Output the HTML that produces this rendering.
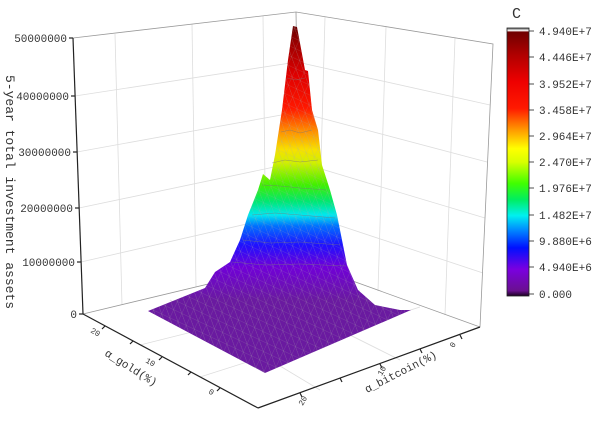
<!DOCTYPE html>
<html><head><meta charset="utf-8"><style>
html,body{margin:0;padding:0;background:#fff;}
svg{display:block;}
text{font-family:"Liberation Mono",monospace;fill:#333;}
</style></head><body>
<svg width="606" height="426" viewBox="0 0 606 426" xmlns="http://www.w3.org/2000/svg">
<defs>
<linearGradient id="cb" x1="0" y1="1" x2="0" y2="0">
<stop offset="0" stop-color="#1a0020"/>
<stop offset="0.02" stop-color="#6a1090"/>
<stop offset="0.1" stop-color="#7a00e0"/>
<stop offset="0.18" stop-color="#0010ff"/>
<stop offset="0.25" stop-color="#0090ff"/>
<stop offset="0.3" stop-color="#00f0f0"/>
<stop offset="0.36" stop-color="#00ee60"/>
<stop offset="0.42" stop-color="#40ff00"/>
<stop offset="0.5" stop-color="#d8ff00"/>
<stop offset="0.55" stop-color="#ffff00"/>
<stop offset="0.62" stop-color="#ff9900"/>
<stop offset="0.7" stop-color="#ff1a00"/>
<stop offset="0.8" stop-color="#ee0000"/>
<stop offset="0.9" stop-color="#b00000"/>
<stop offset="0.985" stop-color="#700000"/>
<stop offset="0.99" stop-color="#ffffff"/>
<stop offset="1" stop-color="#555"/>
</linearGradient>
<linearGradient id="sf" gradientUnits="userSpaceOnUse" x1="0" y1="300" x2="0" y2="26">
<stop offset="0" stop-color="#6a1aa0"/>
<stop offset="0.12" stop-color="#7000d8"/>
<stop offset="0.2" stop-color="#2010ff"/>
<stop offset="0.27" stop-color="#0070ff"/>
<stop offset="0.31" stop-color="#00e8f0"/>
<stop offset="0.36" stop-color="#00e870"/>
<stop offset="0.42" stop-color="#40f000"/>
<stop offset="0.5" stop-color="#d0f000"/>
<stop offset="0.55" stop-color="#f8e000"/>
<stop offset="0.62" stop-color="#ff8a00"/>
<stop offset="0.7" stop-color="#ff1800"/>
<stop offset="0.82" stop-color="#e00000"/>
<stop offset="0.93" stop-color="#a00000"/>
<stop offset="1" stop-color="#6a0000"/>
</linearGradient>
<pattern id="mesh" width="9" height="9" patternUnits="userSpaceOnUse" patternTransform="rotate(25)">
<path d="M0 0H9M0 0V9M0 0L9 9" stroke="#aaa" stroke-width="0.4" fill="none" opacity="0.6"/>
</pattern>
</defs>

<!-- walls -->
<g stroke="#ddd" stroke-width="0.8" fill="none">
<line x1="115" y1="34" x2="122" y2="305"/>
<line x1="192" y1="24" x2="196" y2="287"/>
<line x1="263" y1="16" x2="266" y2="270"/>
<line x1="325" y1="17" x2="318" y2="270"/>
<line x1="386" y1="27" x2="378" y2="291"/>
<line x1="455" y1="38" x2="445" y2="315"/>
<line x1="75" y1="96" x2="297" y2="62"/>
<line x1="77" y1="152" x2="298" y2="112"/>
<line x1="79" y1="208" x2="298" y2="162"/>
<line x1="81" y1="262" x2="299" y2="212"/>
<line x1="297" y1="62" x2="490" y2="105"/>
<line x1="298" y1="112" x2="487" y2="162"/>
<line x1="298" y1="162" x2="485" y2="218"/>
<line x1="299" y1="212" x2="483" y2="273"/>
<line x1="140" y1="345" x2="360" y2="290"/>
<line x1="200" y1="377" x2="420" y2="307"/>
<line x1="170" y1="300" x2="320" y2="390"/>
<line x1="240" y1="280" x2="400" y2="360"/>
</g>
<g stroke="#999" stroke-width="0.8" fill="none">
<polyline points="73,38 296,12 493,44 480,327"/>
<line x1="296" y1="12" x2="300" y2="262"/>
<polyline points="83,314 300,262 480,327"/>
</g>

<!-- surface -->
<polygon fill="url(#sf)" points="148,311 205,288 215,272 230,262 240,240 248,215 258,190 263,174 270,180 275,155 282,110 288,60 293,26 297,27 305,70 308,71 312,110 318,130 322,165 330,190 337,215 342,240 347,265 358,290 375,305 400,310 411,310 265,373"/>
<polygon fill="url(#mesh)" points="148,311 205,288 215,272 230,262 240,240 248,215 258,190 263,174 270,180 275,155 282,110 288,60 293,26 297,27 305,70 308,71 312,110 318,130 322,165 330,190 337,215 342,240 347,265 358,290 375,305 400,310 411,310 265,373"/>
<g stroke="#777" stroke-width="0.5" fill="none" opacity="0.7">
<polyline points="287,78 296,80 305,78"/>
<polyline points="281,132 290,130 300,133 312,130"/>
<polyline points="272,163 285,160 300,162 318,160"/>
<polyline points="262,185 280,186 300,188 326,190"/>
<polyline points="252,215 275,213 300,215 335,218"/>
<polyline points="243,240 270,243 300,242 340,245"/>
<polyline points="232,262 265,265 300,264 346,266"/>
</g>

<!-- axes -->
<g stroke="#222" stroke-width="1.2" fill="none">
<line x1="73" y1="38" x2="83" y2="314"/>
<line x1="83" y1="314" x2="258" y2="408"/>
<line x1="258" y1="408" x2="480" y2="327"/>
<line x1="69" y1="38" x2="73" y2="38"/>
<line x1="71" y1="96" x2="75" y2="96"/>
<line x1="73" y1="152" x2="77" y2="152"/>
<line x1="75" y1="208" x2="79" y2="208"/>
<line x1="77" y1="262" x2="81" y2="262"/>
<line x1="79" y1="314" x2="83" y2="314"/>
<line x1="105" y1="326" x2="102" y2="329"/>
<line x1="133" y1="341" x2="130" y2="344"/>
<line x1="162" y1="357" x2="159" y2="360"/>
<line x1="191" y1="372" x2="188" y2="375"/>
<line x1="220" y1="388" x2="217" y2="391"/>
<line x1="300" y1="393" x2="302" y2="397"/>
<line x1="340" y1="378" x2="342" y2="382"/>
<line x1="380" y1="364" x2="382" y2="368"/>
<line x1="420" y1="349" x2="422" y2="353"/>
<line x1="460" y1="335" x2="462" y2="339"/>
</g>
<g font-size="11" text-anchor="end">
<text x="67" y="42">50000000</text>
<text x="69" y="100">40000000</text>
<text x="71" y="156">30000000</text>
<text x="73" y="212">20000000</text>
<text x="75" y="266">10000000</text>
<text x="77" y="318">0</text>
</g>
<g font-size="8" fill="#555">
<text transform="translate(90,332) rotate(30)">20</text>
<text transform="translate(145,362) rotate(30)">10</text>
<text transform="translate(208,393) rotate(30)">0</text>
<text transform="translate(305,402) rotate(-60)" text-anchor="middle">20</text>
<text transform="translate(384,372) rotate(-60)" text-anchor="middle">10</text>
<text transform="translate(455,346) rotate(-60)" text-anchor="middle">0</text>
</g>
<text transform="translate(104,355) rotate(32)" font-size="11" fill="#444">α_gold(%)</text>
<text transform="translate(367,393) rotate(-27)" font-size="11" fill="#444">α_bitcoin(%)</text>
<text transform="translate(6,75) rotate(90)" font-size="13" fill="#333">5-year total investment assets</text>

<!-- colorbar -->
<rect x="507" y="28" width="22" height="268" fill="url(#cb)" stroke="#222" stroke-width="0.8"/>
<text x="512" y="18" font-size="15" font-family="Liberation Serif,serif">C</text>
<g font-size="11">
<text x="539" y="35">4.940E+7</text>
<text x="539" y="61">4.446E+7</text>
<text x="539" y="88">3.952E+7</text>
<text x="539" y="114">3.458E+7</text>
<text x="539" y="140">2.964E+7</text>
<text x="539" y="166">2.470E+7</text>
<text x="539" y="192">1.976E+7</text>
<text x="539" y="219">1.482E+7</text>
<text x="539" y="245">9.880E+6</text>
<text x="539" y="271">4.940E+6</text>
<text x="539" y="298">0.000</text>
</g>
<g stroke="#222" stroke-width="0.8">
<line x1="529" y1="31" x2="534" y2="31"/><line x1="529" y1="57" x2="534" y2="57"/>
<line x1="529" y1="84" x2="534" y2="84"/><line x1="529" y1="110" x2="534" y2="110"/>
<line x1="529" y1="136" x2="534" y2="136"/><line x1="529" y1="162" x2="534" y2="162"/>
<line x1="529" y1="188" x2="534" y2="188"/><line x1="529" y1="215" x2="534" y2="215"/>
<line x1="529" y1="241" x2="534" y2="241"/><line x1="529" y1="267" x2="534" y2="267"/>
<line x1="529" y1="294" x2="534" y2="294"/>
</g>
</svg>
</body></html>
